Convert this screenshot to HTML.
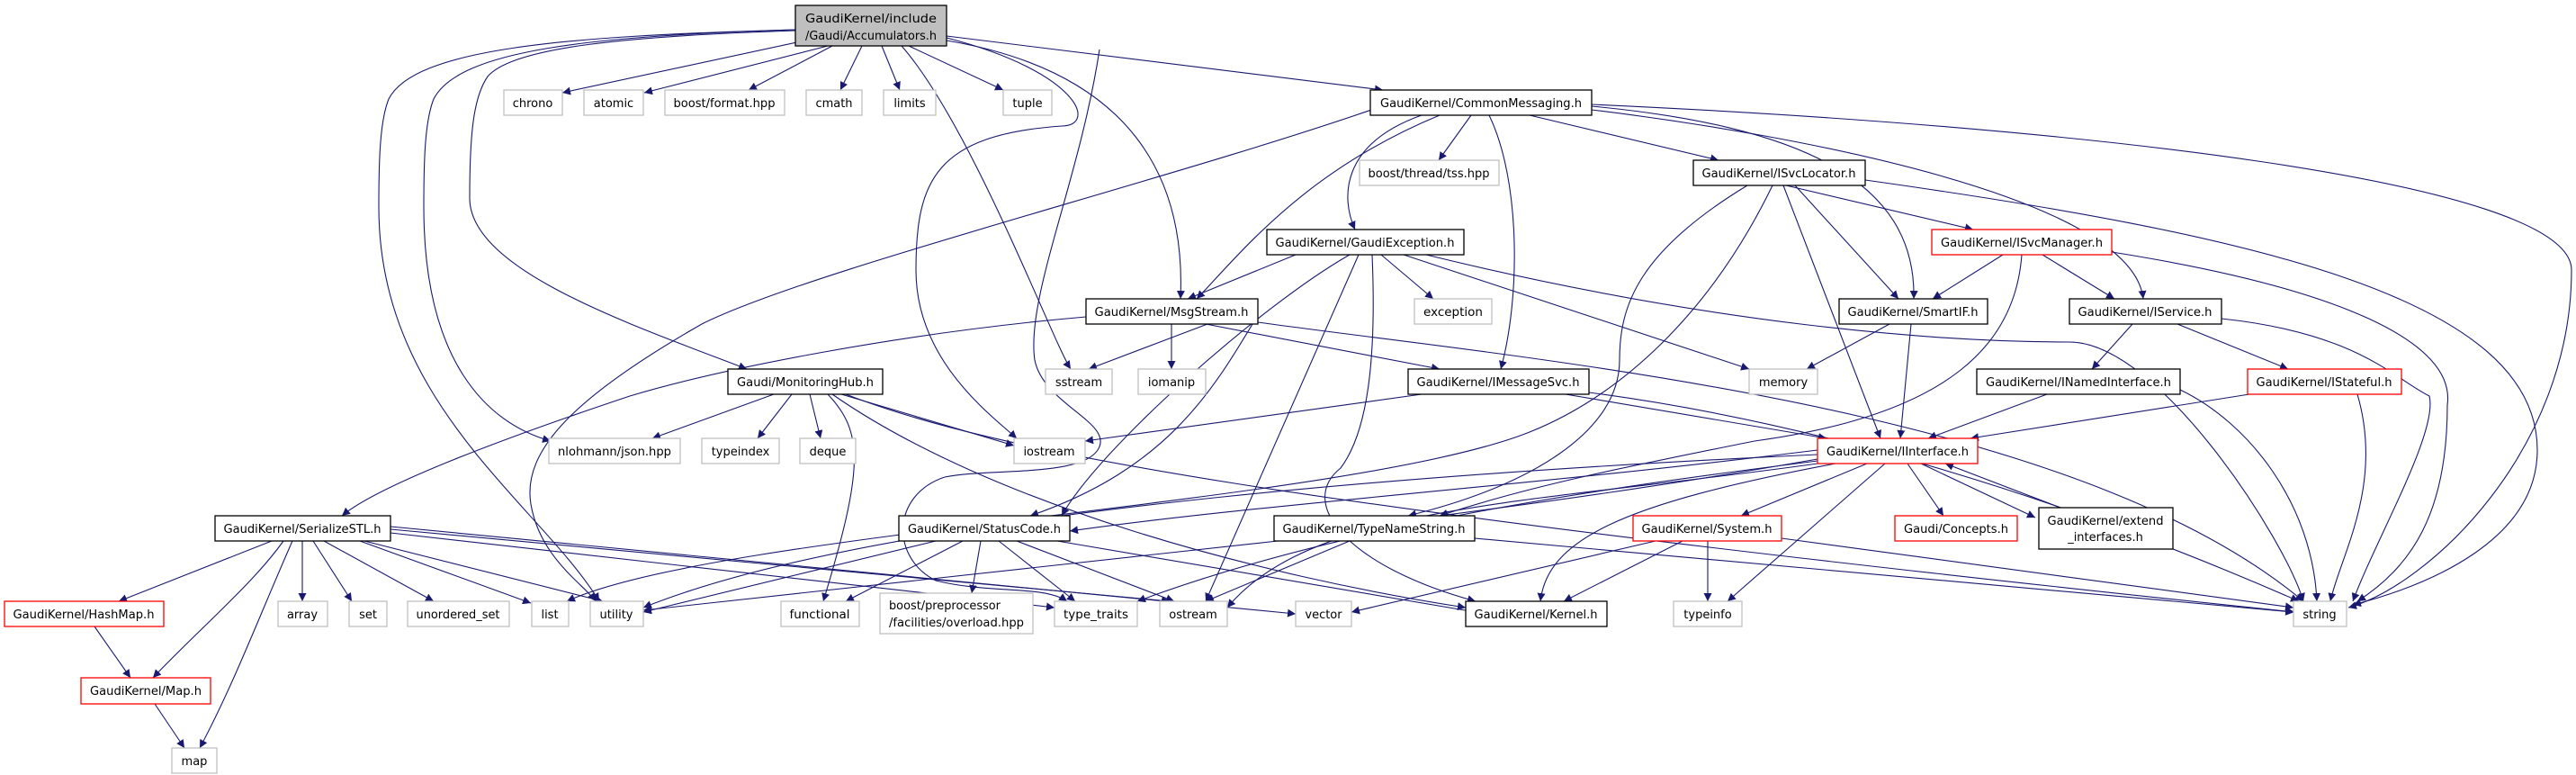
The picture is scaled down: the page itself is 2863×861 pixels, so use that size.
<!DOCTYPE html>
<html><head><meta charset="utf-8"><style>
html,body{margin:0;padding:0;background:#fff;}
svg{display:block;}
text{font-family:"DejaVu Sans","Liberation Sans",sans-serif;font-size:13px;fill:#000;}
.e{fill:none;stroke:#191970;stroke-width:1.1;}
.b{fill:#fff;stroke:#000;stroke-width:1.3;}
.g{fill:#fff;stroke:#bfbfbf;stroke-width:1.3;}
.r{fill:#fff;stroke:#ff0000;stroke-width:1.3;}
</style></head><body>
<svg width="2863" height="861" viewBox="0 0 2863 861" xmlns="http://www.w3.org/2000/svg">
<defs><marker id="a" viewBox="0 0 10 10" refX="10" refY="5" markerWidth="9" markerHeight="9" orient="auto" markerUnits="userSpaceOnUse"><path d="M0,0 L10,5 L0,10 z" fill="#191970"/></marker></defs>
<g class="e" marker-end="url(#a)">
<path d="M895,45 L625,103"/>
<path d="M920,51 L716,103"/>
<path d="M925,51 L832,100"/>
<path d="M958,51 L934,100"/>
<path d="M980,51 L1000,100"/>
<path d="M1010,51 L1115,100"/>
<path d="M1052,40 L1537,100"/>
<path d="M1052,45 C1260,80 1318,200 1312,332"/>
<path d="M884,34 C700,40 570,52 542,85 C526,108 522,150 522,220 C522,300 700,360 830,410"/>
<path d="M884,33 C660,40 510,55 482,110 C472,135 471,180 471,230 C471,400 540,470 612,490"/>
<path d="M884,33 C620,40 460,55 432,110 C422,135 421,180 421,230 C421,450 600,560 666,668"/>
<path d="M1002,51 C1080,140 1170,380 1190,410"/>
<path d="M1052,42 C1200,80 1220,140 1180,140 C1040,150 1018,200 1018,300 C1018,400 1100,460 1130,487"/>
<path d="M1222,55 C1200,200 1140,330 1150,400 C1160,450 1240,470 1220,500 C1200,530 1100,520 1050,530 C990,550 990,620 1040,645 C1100,660 1160,650 1186,668"/>
<path d="M1635,128 L1599,178"/>
<path d="M1700,128 L1910,178"/>
<path d="M1580,128 C1490,160 1490,220 1506,255"/>
<path d="M1600,128 C1450,190 1380,280 1330,332"/>
<path d="M1655,128 C1690,200 1690,330 1668,410"/>
<path d="M1769,118 C2000,140 2130,200 2127,332"/>
<path d="M1769,122 C2000,150 2370,220 2382,332"/>
<path d="M1769,116 C2300,140 2858,200 2858,300 C2858,500 2700,650 2610,675"/>
<path d="M1530,120 C1300,200 900,300 780,360 C640,440 580,500 590,560 C600,620 650,650 662,668"/>
<path d="M1535,283 L1593,332"/>
<path d="M1440,283 L1320,332"/>
<path d="M1560,283 L1944,410"/>
<path d="M1585,283 C1900,360 2150,380 2300,380 C2400,380 2540,600 2560,668"/>
<path d="M1500,283 C1400,340 1220,500 1180,573"/>
<path d="M1510,283 L1340,668"/>
<path d="M1525,283 C1530,400 1520,480 1490,520 C1440,560 1500,630 1640,668"/>
<path d="M1985,206 L2193,255"/>
<path d="M1995,206 L2110,332"/>
<path d="M1982,206 L2090,487"/>
<path d="M2073,200 C2500,260 2820,330 2820,500 C2820,600 2700,650 2615,672"/>
<path d="M1942,206 C1820,280 1800,340 1800,400 C1800,480 1700,540 1565,573"/>
<path d="M1970,206 C1900,350 1800,440 1700,480 C1500,560 800,590 630,668"/>
<path d="M2226,283 L2148,332"/>
<path d="M2270,283 L2350,332"/>
<path d="M2347,280 C2600,320 2730,380 2720,450 C2720,570 2680,630 2620,668"/>
<path d="M2247,283 C2240,380 2170,460 1950,490 C1800,520 1700,540 1600,573"/>
<path d="M2100,360 L2008,410"/>
<path d="M2124,360 L2112,487"/>
<path d="M2370,360 L2325,410"/>
<path d="M2420,360 L2543,410"/>
<path d="M2469,354 C2620,370 2660,420 2700,440 C2710,480 2640,600 2615,668"/>
<path d="M2275,438 L2143,487"/>
<path d="M2423,433 C2500,470 2570,560 2575,668"/>
<path d="M2500,438 L2190,487"/>
<path d="M2620,438 C2650,540 2600,620 2590,668"/>
<path d="M1342,360 L1210,410"/>
<path d="M1302,360 L1302,410"/>
<path d="M1340,360 L1600,410"/>
<path d="M1207,352 C1000,370 800,410 700,440 C550,490 420,540 380,573"/>
<path d="M1398,350 C1350,430 1300,520 1145,573"/>
<path d="M1398,358 C1700,400 2300,450 2560,668"/>
<path d="M1580,438 L1206,490"/>
<path d="M1740,438 L2030,487"/>
<path d="M1766,436 C2100,480 2400,600 2555,668"/>
<path d="M860,438 L725,487"/>
<path d="M880,438 L842,487"/>
<path d="M900,438 L912,487"/>
<path d="M935,438 L1127,495"/>
<path d="M920,438 C960,480 960,520 915,668"/>
<path d="M940,438 C1100,500 1400,560 2550,680"/>
<path d="M925,438 C1100,560 1400,640 1629,675"/>
<path d="M2020,500 C1700,540 1400,560 1189,590"/>
<path d="M2020,510 C1850,540 1700,560 1600,573"/>
<path d="M2075,515 L1935,573"/>
<path d="M2120,515 L2160,573"/>
<path d="M2135,515 L2262,575"/>
<path d="M2095,515 L1920,668"/>
<path d="M2040,515 C1800,560 1720,600 1712,668"/>
<path d="M2020,515 C1700,560 1460,560 1364,675"/>
<path d="M2020,512 C1800,540 1500,580 1264,668"/>
<path d="M2020,505 C1700,520 1000,560 715,675"/>
<path d="M2290,564 L2162,515"/>
<path d="M1840,601 L1502,680"/>
<path d="M1870,601 L1738,668"/>
<path d="M1898,601 L1898,668"/>
<path d="M1980,598 L2549,675"/>
<path d="M1639,598 L2549,680"/>
<path d="M1500,601 L1340,668"/>
<path d="M1420,601 L715,678"/>
<path d="M1040,601 L715,680"/>
<path d="M1070,601 L940,668"/>
<path d="M1090,601 L1080,659"/>
<path d="M1110,601 L1195,668"/>
<path d="M1130,601 L1305,668"/>
<path d="M1175,601 L1640,680"/>
<path d="M302,601 L132,668"/>
<path d="M315,601 C280,650 220,700 170,753"/>
<path d="M325,601 C290,680 260,760 222,831"/>
<path d="M336,601 L336,668"/>
<path d="M348,601 L391,668"/>
<path d="M360,601 L482,668"/>
<path d="M400,601 L590,670"/>
<path d="M405,601 L670,668"/>
<path d="M434,592 L1172,675"/>
<path d="M434,588 L1300,668"/>
<path d="M434,585 L1440,682"/>
<path d="M105,696 L145,753"/>
<path d="M172,782 L205,831"/>
</g>
<g>
<rect x="884" y="6" width="168" height="45" fill="#bfbfbf" stroke="#000" stroke-width="1.3"/>
<text x="895" y="25" textLength="146" lengthAdjust="spacingAndGlyphs">GaudiKernel/include</text>
<text x="895" y="44" textLength="146" lengthAdjust="spacingAndGlyphs">/Gaudi/Accumulators.h</text>
</g>
<g text-anchor="middle">
<rect class="g" x="560" y="100" width="65" height="28"/><text x="592" y="119">chrono</text>
<rect class="g" x="649" y="100" width="66" height="28"/><text x="682" y="119">atomic</text>
<rect class="g" x="739" y="100" width="133" height="28"/><text x="805" y="119" textLength="113" lengthAdjust="spacingAndGlyphs">boost/format.hpp</text>
<rect class="g" x="896" y="100" width="62" height="28"/><text x="927" y="119">cmath</text>
<rect class="g" x="982" y="100" width="58" height="28"/><text x="1011" y="119">limits</text>
<rect class="g" x="1115" y="100" width="54" height="28"/><text x="1142" y="119">tuple</text>
<rect class="b" x="1523" y="100" width="246" height="28"/><text x="1646" y="119" textLength="224" lengthAdjust="spacingAndGlyphs">GaudiKernel/CommonMessaging.h</text>
<rect class="g" x="1511" y="178" width="155" height="28"/><text x="1588" y="197" textLength="135" lengthAdjust="spacingAndGlyphs">boost/thread/tss.hpp</text>
<rect class="b" x="1882" y="178" width="191" height="28"/><text x="1977" y="197" textLength="171" lengthAdjust="spacingAndGlyphs">GaudiKernel/ISvcLocator.h</text>
<rect class="b" x="1408" y="255" width="219" height="28"/><text x="1517" y="274" textLength="199" lengthAdjust="spacingAndGlyphs">GaudiKernel/GaudiException.h</text>
<rect class="r" x="2147" y="255" width="200" height="28"/><text x="2247" y="274" textLength="180" lengthAdjust="spacingAndGlyphs">GaudiKernel/ISvcManager.h</text>
<rect class="g" x="1572" y="332" width="86" height="28"/><text x="1615" y="351" textLength="66" lengthAdjust="spacingAndGlyphs">exception</text>
<rect class="b" x="1207" y="332" width="191" height="28"/><text x="1302" y="351" textLength="171" lengthAdjust="spacingAndGlyphs">GaudiKernel/MsgStream.h</text>
<rect class="b" x="2044" y="332" width="165" height="28"/><text x="2126" y="351" textLength="145" lengthAdjust="spacingAndGlyphs">GaudiKernel/SmartIF.h</text>
<rect class="b" x="2300" y="332" width="169" height="28"/><text x="2384" y="351" textLength="149" lengthAdjust="spacingAndGlyphs">GaudiKernel/IService.h</text>
<rect class="g" x="1162" y="410" width="74" height="28"/><text x="1199" y="429">sstream</text>
<rect class="g" x="1265" y="410" width="75" height="28"/><text x="1302" y="429">iomanip</text>
<rect class="b" x="809" y="410" width="172" height="28"/><text x="895" y="429" textLength="152" lengthAdjust="spacingAndGlyphs">Gaudi/MonitoringHub.h</text>
<rect class="b" x="1565" y="410" width="201" height="28"/><text x="1665" y="429" textLength="181" lengthAdjust="spacingAndGlyphs">GaudiKernel/IMessageSvc.h</text>
<rect class="g" x="1944" y="410" width="76" height="28"/><text x="1982" y="429">memory</text>
<rect class="b" x="2197" y="410" width="226" height="28"/><text x="2310" y="429" textLength="206" lengthAdjust="spacingAndGlyphs">GaudiKernel/INamedInterface.h</text>
<rect class="r" x="2498" y="410" width="171" height="28"/><text x="2583" y="429" textLength="151" lengthAdjust="spacingAndGlyphs">GaudiKernel/IStateful.h</text>
<rect class="g" x="610" y="487" width="146" height="28"/><text x="683" y="506" textLength="126" lengthAdjust="spacingAndGlyphs">nlohmann/json.hpp</text>
<rect class="g" x="780" y="487" width="86" height="28"/><text x="823" y="506">typeindex</text>
<rect class="g" x="889" y="487" width="62" height="28"/><text x="920" y="506">deque</text>
<rect class="g" x="1127" y="487" width="79" height="28"/><text x="1166" y="506">iostream</text>
<rect class="r" x="2020" y="487" width="178" height="28"/><text x="2109" y="506" textLength="158" lengthAdjust="spacingAndGlyphs">GaudiKernel/IInterface.h</text>
<rect class="b" x="239" y="573" width="195" height="28"/><text x="336" y="592" textLength="175" lengthAdjust="spacingAndGlyphs">GaudiKernel/SerializeSTL.h</text>
<rect class="b" x="999" y="573" width="190" height="28"/><text x="1094" y="592" textLength="170" lengthAdjust="spacingAndGlyphs">GaudiKernel/StatusCode.h</text>
<rect class="b" x="1416" y="573" width="223" height="28"/><text x="1527" y="592" textLength="203" lengthAdjust="spacingAndGlyphs">GaudiKernel/TypeNameString.h</text>
<rect class="r" x="1815" y="573" width="165" height="28"/><text x="1897" y="592" textLength="145" lengthAdjust="spacingAndGlyphs">GaudiKernel/System.h</text>
<rect class="r" x="2106" y="573" width="136" height="28"/><text x="2174" y="592" textLength="116" lengthAdjust="spacingAndGlyphs">Gaudi/Concepts.h</text>
<rect class="b" x="2266" y="564" width="149" height="46"/><text x="2340" y="583" textLength="129" lengthAdjust="spacingAndGlyphs">GaudiKernel/extend</text><text x="2340" y="601">_interfaces.h</text>
<rect class="r" x="5" y="668" width="177" height="28"/><text x="93" y="687" textLength="157" lengthAdjust="spacingAndGlyphs">GaudiKernel/HashMap.h</text>
<rect class="g" x="309" y="668" width="55" height="28"/><text x="336" y="687">array</text>
<rect class="g" x="388" y="668" width="42" height="28"/><text x="409" y="687">set</text>
<rect class="g" x="453" y="668" width="113" height="28"/><text x="509" y="687" textLength="93" lengthAdjust="spacingAndGlyphs">unordered_set</text>
<rect class="g" x="591" y="668" width="41" height="28"/><text x="611" y="687">list</text>
<rect class="g" x="656" y="668" width="59" height="28"/><text x="685" y="687">utility</text>
<rect class="g" x="868" y="668" width="87" height="28"/><text x="911" y="687" textLength="67" lengthAdjust="spacingAndGlyphs">functional</text>
<rect class="g" x="978" y="659" width="170" height="45"/><text x="988" y="677" text-anchor="start" textLength="124" lengthAdjust="spacingAndGlyphs">boost/preprocessor</text><text x="988" y="696" text-anchor="start" textLength="150" lengthAdjust="spacingAndGlyphs">/facilities/overload.hpp</text>
<rect class="g" x="1172" y="668" width="92" height="28"/><text x="1218" y="687" textLength="72" lengthAdjust="spacingAndGlyphs">type_traits</text>
<rect class="g" x="1289" y="668" width="75" height="28"/><text x="1326" y="687">ostream</text>
<rect class="g" x="1440" y="668" width="62" height="28"/><text x="1471" y="687">vector</text>
<rect class="b" x="1629" y="668" width="157" height="28"/><text x="1707" y="687" textLength="137" lengthAdjust="spacingAndGlyphs">GaudiKernel/Kernel.h</text>
<rect class="g" x="1860" y="668" width="76" height="28"/><text x="1898" y="687">typeinfo</text>
<rect class="g" x="2549" y="668" width="59" height="28"/><text x="2578" y="687">string</text>
<rect class="r" x="90" y="753" width="144" height="29"/><text x="162" y="772" textLength="124" lengthAdjust="spacingAndGlyphs">GaudiKernel/Map.h</text>
<rect class="g" x="191" y="831" width="50" height="28"/><text x="216" y="850">map</text>
</g>
</svg>
</body></html>
